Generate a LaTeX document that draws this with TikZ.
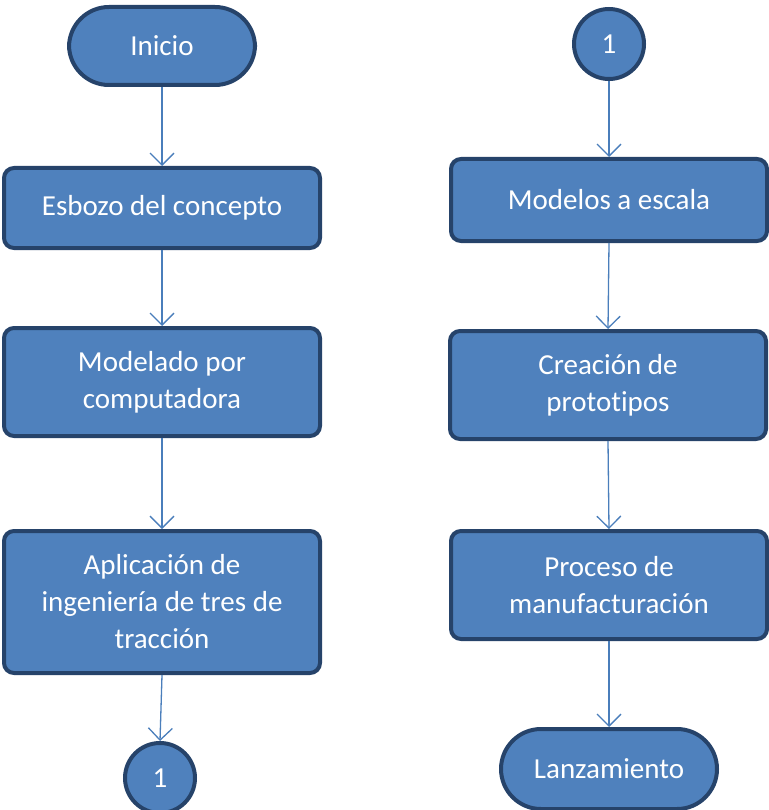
\documentclass[tikz,border=0pt]{standalone}
\usepackage{fontspec}
\setmainfont[Ligatures={NoCommon}]{Carlito}
\usetikzlibrary{arrows.meta}
\definecolor{boxfill}{HTML}{4F81BD}
\definecolor{boxline}{HTML}{26436A}
\definecolor{arrline}{HTML}{4A7EBB}
\tikzset{
  base/.style={draw=boxline, fill=boxfill, line width=4pt, text=white, align=center,
    font=\fontsize{29}{37}\selectfont, inner sep=0pt},
  procbox/.style={base, rounded corners=10pt, minimum width=316pt},
  termbox/.style={base, rounded corners=40pt},
  conn/.style={base, circle, minimum size=70pt},
  arr/.style={draw=arrline, line width=1.3pt, -{Straight Barb[length=12pt,width=24pt,line width=1.3pt]}}
}
\begin{document}
\begin{tikzpicture}[x=1pt,y=-1pt]
\useasboundingbox (0,0) rectangle (768,810);
% left column
\node[termbox, minimum width=186pt, minimum height=78pt] (ini) at (162,46) {Inicio};
\node[procbox, minimum height=80pt] (b1) at (162,208) {Esbozo del concepto};
\node[procbox, minimum height=108pt] (b2) at (162,382) {Modelado por\\computadora};
\node[procbox, minimum height=142pt] (b3) at (162,602) {Aplicación de\\ingeniería de tres de\\tracción};
\node[conn] (c1) at (160,778) {1};
% right column
\node[conn] (c2) at (609,44) {1};
\node[procbox, minimum height=82pt] (r1) at (609,200) {Modelos a escala};
\node[procbox, minimum height=108pt] (r2) at (608,385) {Creación de\\prototipos};
\node[procbox, minimum height=108pt] (r3) at (609,585) {Proceso de\\manufacturación};
\node[termbox, minimum width=216pt, minimum height=80pt] (lan) at (609,769) {Lanzamiento};
% connectors
\draw[arr] (ini.south) -- (b1.north);
\draw[arr] (b1.south) -- (b2.north);
\draw[arr] (b2.south) -- (b3.north);
\draw[arr] (b3.south) -- (c1.north);
\draw[arr] (c2.south) -- (r1.north);
\draw[arr] (r1.south) -- (r2.north);
\draw[arr] (r2.south) -- (r3.north);
\draw[arr] (r3.south) -- (lan.north);
\end{tikzpicture}
\end{document}
